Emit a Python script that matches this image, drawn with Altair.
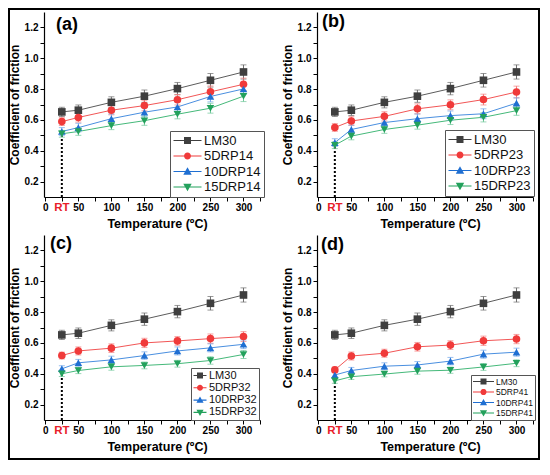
import altair as alt
import pandas as pd

# ---------------- data ----------------
TEMPS = [25, 50, 100, 150, 200, 250, 300]

LM30 = [0.652, 0.663, 0.714, 0.754, 0.803, 0.857, 0.911]
LM30_ERR = [0.030, 0.034, 0.036, 0.040, 0.040, 0.044, 0.046]

# (a)
DRP14_NAMES = ["LM30", "5DRP14", "10DRP14", "15DRP14"]
DRP14_5 = [0.589, 0.616, 0.663, 0.693, 0.731, 0.782, 0.831]
DRP14_10 = [0.525, 0.550, 0.608, 0.650, 0.684, 0.752, 0.801]
DRP14_15 = [0.510, 0.525, 0.563, 0.595, 0.637, 0.676, 0.754]
DRP14_5_ERR = [0.025, 0.030, 0.030, 0.034, 0.034, 0.038, 0.040]
DRP14_10_ERR = [0.025, 0.028, 0.030, 0.030, 0.032, 0.035, 0.036]
DRP14_15_ERR = [0.022, 0.025, 0.026, 0.030, 0.030, 0.032, 0.035]

# (b)
DRP23_NAMES = ["LM30", "5DRP23", "10DRP23", "15DRP23"]
DRP23_5 = [0.551, 0.593, 0.623, 0.672, 0.698, 0.732, 0.781]
DRP23_10 = [0.453, 0.538, 0.583, 0.608, 0.628, 0.640, 0.709]
DRP23_15 = [0.436, 0.495, 0.538, 0.566, 0.598, 0.617, 0.660]
DRP23_5_ERR = [0.025, 0.028, 0.030, 0.032, 0.032, 0.035, 0.038]
DRP23_10_ERR = [0.025, 0.028, 0.028, 0.030, 0.030, 0.032, 0.034]
DRP23_15_ERR = [0.022, 0.024, 0.025, 0.026, 0.028, 0.030, 0.030]

# (c)
DRP32_NAMES = ["LM30", "5DRP32", "10DRP32", "15DRP32"]
DRP32_5 = [0.518, 0.548, 0.566, 0.600, 0.613, 0.628, 0.641]
DRP32_10 = [0.432, 0.471, 0.490, 0.518, 0.548, 0.568, 0.591]
DRP32_15 = [0.400, 0.421, 0.445, 0.454, 0.465, 0.486, 0.525]
DRP32_5_ERR = [0.022, 0.026, 0.028, 0.030, 0.028, 0.030, 0.032]
DRP32_10_ERR = [0.020, 0.022, 0.024, 0.024, 0.026, 0.026, 0.028]
DRP32_15_ERR = [0.018, 0.020, 0.022, 0.022, 0.022, 0.024, 0.026]

# (d)
DRP41_NAMES = ["LM30", "5DRP41", "10DRP41", "15DRP41"]
DRP41_5 = [0.425, 0.515, 0.533, 0.575, 0.586, 0.614, 0.625]
DRP41_10 = [0.392, 0.421, 0.449, 0.457, 0.482, 0.527, 0.540]
DRP41_15 = [0.354, 0.381, 0.398, 0.417, 0.423, 0.444, 0.468]
DRP41_5_ERR = [0.018, 0.026, 0.026, 0.028, 0.028, 0.030, 0.030]
DRP41_10_ERR = [0.018, 0.020, 0.022, 0.022, 0.024, 0.026, 0.026]
DRP41_15_ERR = [0.016, 0.018, 0.018, 0.020, 0.020, 0.022, 0.022]

X_TICKS = list(range(0, 326, 25))
Y_TICKS = [round(0.2 + 0.1 * i, 1) for i in range(11)]

# ---------------- styling ----------------
MARK_COLORS = ["#3f3f3f", "#f03a3a", "#1f6fd2", "#23a15c"]
LINE_COLORS = ["#5c5c5c", "#f25656", "#4a8fe0", "#45b97a"]
ERR_COLORS = ["#6e6e6e", "#f47c7c", "#6fa5e8", "#6fc79a"]
SHAPES = ["square", "circle", "triangle-up", "triangle-down"]
FONT = "Liberation Sans"
W, H = 216, 185


def make_df(names, vals, errs):
    rows = []
    for n, vs, es in zip(names, vals, errs):
        for t, v, e in zip(TEMPS, vs, es):
            rows.append({"T": t, "v": v, "e": e, "s": n})
    return pd.DataFrame(rows)


def f(x):
    return f"{x:.3f}"


def legend_paths(L, m, u):
    x0, x1 = -1.0, -1.0 + L / u
    cx = -1.0 + L / (2 * u)
    r = (m / 2) / u
    t = 0.55 / u
    line = f"M{f(x0)},{f(-t)}H{f(x1)}V{f(t)}H{f(x0)}Z"
    sq = f"M{f(cx - r)},{f(-r)}H{f(cx + r)}V{f(r)}H{f(cx - r)}Z"
    ci = (f"M{f(cx - r)},0A{f(r)},{f(r)} 0 1,1 {f(cx + r)},0"
          f"A{f(r)},{f(r)} 0 1,1 {f(cx - r)},0Z")
    a = r * 1.2
    tu = f"M{f(cx)},{f(-a)}L{f(cx + a)},{f(a * 0.75)}L{f(cx - a)},{f(a * 0.75)}Z"
    td = f"M{f(cx)},{f(a)}L{f(cx - a)},{f(-a * 0.75)}L{f(cx + a)},{f(-a * 0.75)}Z"
    return [line + sq, line + ci, line + tu, line + td]


xscale = alt.Scale(domain=[-2, 325], nice=False, zero=False)
yscale = alt.Scale(domain=[0.1, 1.3], nice=False, zero=False)
xaxis = alt.Axis(title="Temperature (ºC)", values=X_TICKS,
                 labelExpr="datum.value % 50 == 0 ? '' + datum.value : ''",
                 labelPadding=1, titlePadding=5, labelFlush=False,
                 titleFontSize=12.5, titleX=W / 2 + 5)
yaxis = alt.Axis(title="Coefficient of friction", values=Y_TICKS,
                 labelExpr="round(datum.value * 10) % 2 == 0 ? format(datum.value, '.1f') : ''",
                 labelPadding=2, titlePadding=3, titleFontSize=12)


def panel(tag, tag_xy, names, vals, errs, leg, frame=False):
    df = make_df(names, vals, errs)
    X = alt.X("T:Q", scale=xscale, axis=xaxis)
    Y = alt.Y("v:Q", scale=yscale, axis=yaxis)

    def col(rng):
        return alt.Color("s:N", scale=alt.Scale(domain=names, range=rng), legend=None)

    base = alt.Chart(df)
    lines = base.mark_line(strokeWidth=1).encode(x=X, y=Y, color=col(LINE_COLORS))
    errd = base.transform_calculate(lo="datum.v - datum.e", hi="datum.v + datum.e")
    stems = errd.mark_rule(strokeWidth=1).encode(
        x=X, y=alt.Y("lo:Q", scale=yscale, axis=yaxis), y2="hi:Q", color=col(ERR_COLORS))
    cap_lo = errd.mark_tick(orient="horizontal", size=6, thickness=1).encode(
        x=X, y=alt.Y("lo:Q", scale=yscale, axis=yaxis), color=col(ERR_COLORS))
    cap_hi = errd.mark_tick(orient="horizontal", size=6, thickness=1).encode(
        x=X, y=alt.Y("hi:Q", scale=yscale, axis=yaxis), color=col(ERR_COLORS))
    pts = base.mark_point(filled=True, size=58, opacity=1).encode(
        x=X, y=Y, color=col(MARK_COLORS),
        shape=alt.Shape("s:N", scale=alt.Scale(domain=names, range=SHAPES), legend=None))

    L, m, u, fs, rp, pad, lx, ly = leg
    S = (2 * u) ** 2
    lg = dict(orient="none", legendX=lx, legendY=ly, title=None,
              strokeColor="#555555", fillColor="white", padding=pad,
              labelFont=FONT, labelFontSize=fs, labelColor="#111111",
              symbolSize=S, symbolStrokeWidth=0, labelOffset=L + 2 - 2 * u,
              rowPadding=rp, symbolOpacity=1)
    legend_layer = base.transform_filter("false").mark_point(filled=True).encode(
        x=X, y=Y,
        color=alt.Color("s:N", scale=alt.Scale(domain=names, range=MARK_COLORS),
                        legend=alt.Legend(**lg)),
        shape=alt.Shape("s:N", scale=alt.Scale(domain=names, range=legend_paths(L, m, u)),
                        legend=alt.Legend(**lg)))

    rt = base.transform_filter("datum.T == 25").transform_aggregate(
        minv="min(v)", groupby=["T"]).transform_calculate(base="0.1")
    dotted = rt.mark_rule(color="black", strokeWidth=2, strokeDash=[2, 2]).encode(
        x=X, y=alt.Y("base:Q", scale=yscale, axis=yaxis), y2="minv:Q")
    rt_text = rt.mark_text(text="RT", color="#e8202a", fontWeight="bold", fontSize=11.5,
                           font=FONT, align="center", baseline="middle").encode(
        x=X, y=alt.value(H + 11))

    one = alt.Chart(pd.DataFrame({"k": [0]}))
    tag_text = one.mark_text(text=tag, fontSize=18, fontWeight="bold", font=FONT,
                             align="left", baseline="middle", color="black").encode(
        x=alt.value(tag_xy[0]), y=alt.value(tag_xy[1]))

    layers = [dotted, lines, stems, cap_lo, cap_hi, pts, legend_layer, rt_text, tag_text]
    if frame:
        layers.append(one.mark_rect(filled=False, stroke="black", strokeWidth=2).encode(
            x=alt.value(-35), x2=alt.value(495), y=alt.value(-3), y2=alt.value(447)))
    return alt.layer(*layers).resolve_scale(color="independent", shape="independent").properties(
        width=W, height=H)


pa = panel("(a)", (12, 13), DRP14_NAMES, [LM30, DRP14_5, DRP14_10, DRP14_15],
           [LM30_ERR, DRP14_5_ERR, DRP14_10_ERR, DRP14_15_ERR],
           (28, 7, 6, 13, 1.5, 3, W - 90, 119), frame=True)
pb = panel("(b)", (5, 10), DRP23_NAMES, [LM30, DRP23_5, DRP23_10, DRP23_15],
           [LM30_ERR, DRP23_5_ERR, DRP23_10_ERR, DRP23_15_ERR],
           (23, 7, 6, 13, 1.5, 3, W - 88, 118))
pc = panel("(c)", (6, 9), DRP32_NAMES, [LM30, DRP32_5, DRP32_10, DRP32_15],
           [LM30_ERR, DRP32_5_ERR, DRP32_10_ERR, DRP32_15_ERR],
           (13, 6, 5, 11, 0.3, 2, W - 69, 133))
pd_ = panel("(d)", (4, 10), DRP41_NAMES, [LM30, DRP41_5, DRP41_10, DRP41_15],
            [LM30_ERR, DRP41_5_ERR, DRP41_10_ERR, DRP41_15_ERR],
            (21, 6, 4.5, 8.5, 1.5, 2, W - 62, 140))

chart = alt.concat(pa, pb, pc, pd_, columns=2, spacing={"row": 38, "column": 57},
                   bounds="flush").properties(padding=0)
chart = chart.configure_view(stroke=None).configure_axis(
    domainColor="black", domainWidth=1.2, tickColor="black", tickWidth=1, tickSize=4,
    labelFont=FONT, labelFontWeight="bold", labelFontSize=10, labelColor="black",
    titleFont=FONT, titleFontWeight="bold", titleFontSize=13, titleColor="black",
    grid=False)

chart.save("out.html", embed_options={"renderer": "svg", "actions": False})
